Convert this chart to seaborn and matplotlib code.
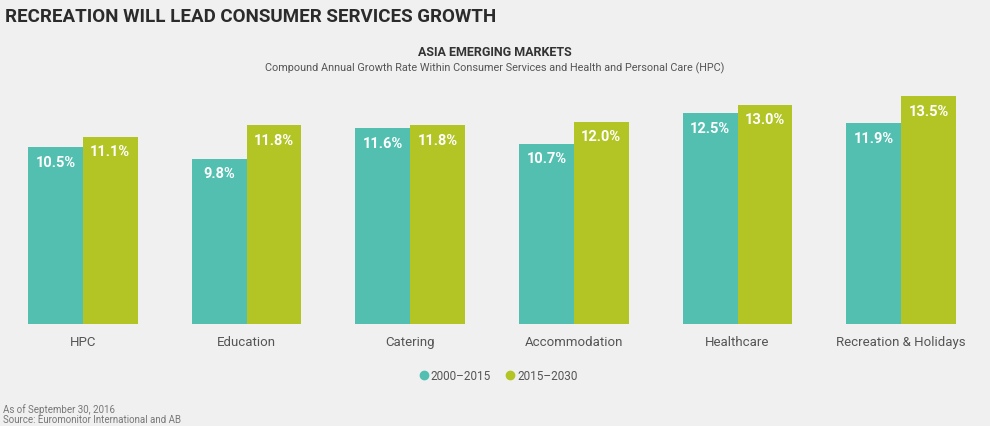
import pandas as pd
import seaborn as sns
import matplotlib.pyplot as plt
from matplotlib.lines import Line2D

# values
categories = ["HPC", "Education", "Catering", "Accommodation", "Healthcare", "Recreation & Holidays"]
period_a = [10.5, 9.8, 11.6, 10.7, 12.5, 11.9]
period_b = [11.1, 11.8, 11.8, 12.0, 13.0, 13.5]
periods = ["2000\u20132015", "2015\u20132030"]

df = pd.DataFrame({
    "category": categories * 2,
    "period": [periods[0]] * len(categories) + [periods[1]] * len(categories),
    "cagr": period_a + period_b,
})

bg = "#f0f0f0"
teal = "#52bfb0"
green = "#b3c524"

sns.set_theme(style="white")
plt.rcParams["font.family"] = ["Roboto", "DejaVu Sans"]

fig = plt.figure(figsize=(9.9, 4.27), dpi=100, facecolor=bg)
ax = fig.add_axes([1 / 990, 102 / 427, 982 / 990, 236 / 427])
ax.set_facecolor(bg)

sns.barplot(data=df, x="category", y="cagr", hue="period", order=categories,
            hue_order=periods, palette=[teal, green], width=0.67,
            saturation=1, linewidth=0, ax=ax, legend=False)

# value labels sit inside the top of each bar
for cont in ax.containers:
    ax.bar_label(cont, labels=[f"{v:.1f}%" for v in cont.datavalues],
                 padding=-15.5, color="white", fontsize=10.5, fontweight="bold")

ax.set_ylim(0, 14)
ax.set_xlim(-0.5, 5.5)
ax.set_xlabel("")
ax.set_ylabel("")
ax.set_yticks([])
ax.tick_params(axis="x", length=0, pad=8, labelsize=9.5, labelcolor="#555555")
for s in ax.spines.values():
    s.set_visible(False)

fig.text(5 / 990, 1 - 17 / 427, "RECREATION WILL LEAD CONSUMER SERVICES GROWTH",
         fontsize=13.5, fontweight="bold", color="#2b2b2b", va="center")
fig.text(495 / 990, 1 - 52 / 427, "ASIA EMERGING MARKETS", fontsize=9,
         fontweight="bold", color="#333333", ha="center", va="center")
fig.text(495 / 990, 1 - 68 / 427,
         "Compound Annual Growth Rate Within Consumer Services and Health and Personal Care (HPC)",
         fontsize=7.8, color="#555555", ha="center", va="center")

handles = [Line2D([], [], marker="o", linestyle="", markersize=6, color=c) for c in (teal, green)]
fig.legend(handles, periods, loc="center", bbox_to_anchor=(497 / 990, 1 - 377 / 427),
           ncol=2, frameon=False, fontsize=8.5, handletextpad=0.0, columnspacing=1.0,
           handlelength=1.2, labelcolor="#555555")

fig.text(3 / 990, 1 - 410 / 427, "As of September 30, 2016", fontsize=7,
         color="#777777", va="center")
fig.text(3 / 990, 1 - 420 / 427, "Source: Euromonitor International and AB", fontsize=7,
         color="#777777", va="center")

fig.savefig("out.png", dpi=100, facecolor=bg)
